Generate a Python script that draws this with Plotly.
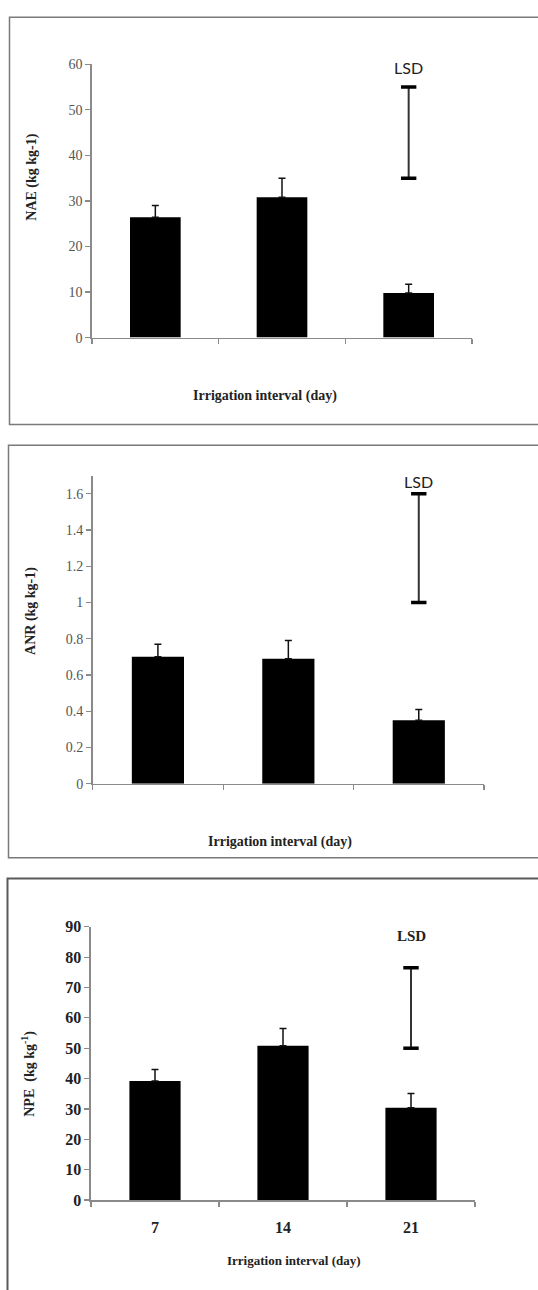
import plotly.graph_objects as go

W, H = 538, 1290

categories = ["7", "14", "21"]

nae_values = [26.4, 30.8, 9.8]
nae_errors = [2.6, 4.2, 1.9]
nae_lsd = [35, 55]

anr_values = [0.70, 0.69, 0.35]
anr_errors = [0.07, 0.10, 0.06]
anr_lsd = [1.0, 1.6]

npe_values = [39.2, 50.8, 30.4]
npe_errors = [3.8, 5.7, 4.7]
npe_lsd = [50, 76.5]

y_ticks_nae = [0, 10, 20, 30, 40, 50, 60]
y_ticks_anr = [0, 0.2, 0.4, 0.6, 0.8, 1, 1.2, 1.4, 1.6]
y_tick_labels_anr = ["0", "0.2", "0.4", "0.6", "0.8", "1", "1.2", "1.4", "1.6"]
y_ticks_npe = [0, 10, 20, 30, 40, 50, 60, 70, 80, 90]


def px_x(p):
    return p / W


def px_y(p):
    return 1 - p / H


fig = go.Figure()

panels = [
    dict(vals=nae_values, errs=nae_errors, lsd=nae_lsd, xa="x", ya="y"),
    dict(vals=anr_values, errs=anr_errors, lsd=anr_lsd, xa="x2", ya="y2"),
    dict(vals=npe_values, errs=npe_errors, lsd=npe_lsd, xa="x3", ya="y3"),
]

for p in panels:
    fig.add_trace(go.Bar(
        x=categories, y=p["vals"], width=0.4,
        marker=dict(color="black", line=dict(width=0)),
        error_y=dict(type="data", symmetric=False, array=p["errs"],
                     arrayminus=[0] * len(p["errs"]),
                     color="#111111", thickness=1.5, width=3.5),
        xaxis=p["xa"], yaxis=p["ya"], showlegend=False, hoverinfo="skip",
    ))
    fig.add_trace(go.Scatter(
        x=[categories[-1], categories[-1]], y=p["lsd"], mode="lines+markers",
        line=dict(color="#333333", width=2),
        marker=dict(symbol="line-ew", size=11,
                    line=dict(color="black", width=3.5)),
        xaxis=p["xa"], yaxis=p["ya"], showlegend=False, hoverinfo="skip",
    ))

axis_col = "#8a8a8a"
serif = "Liberation Serif"


def xaxis(domain, anchor, labels, bold=False):
    return dict(
        domain=domain, anchor=anchor, type="category", categoryorder="array",
        categoryarray=categories, range=[-0.5, 2.5],
        tickson="boundaries", ticks="outside", ticklen=5, tickwidth=1.2,
        tickcolor=axis_col, showline=True, linecolor=axis_col, linewidth=1.6,
        showgrid=False, zeroline=False, showticklabels=labels,
        ticklabelstandoff=12,
        tickfont=dict(family=serif, size=16, color="#222222",
                      weight="bold" if bold else "normal"),
        fixedrange=True,
    )


def yaxis(domain, anchor, rng, tickvals, ticktext=None, bold=False, size=14, color="#555555"):
    d = dict(
        domain=domain, anchor=anchor, range=rng, tickvals=tickvals, ticks="outside",
        ticklen=5, tickwidth=1.2, tickcolor=axis_col, showline=True,
        linecolor=axis_col, linewidth=1.6, showgrid=False, zeroline=False,
        tickfont=dict(family=serif, size=size, color=color,
                      weight="bold" if bold else "normal"),
        fixedrange=True,
    )
    if ticktext is not None:
        d["ticktext"] = ticktext
    return d


shapes = [
    dict(type="rect", xref="paper", yref="paper",
         x0=px_x(9.5), x1=1.05, y0=px_y(422), y1=px_y(9.5),
         line=dict(color="#7a7a7a", width=1.5), fillcolor="rgba(0,0,0,0)"),
    dict(type="rect", xref="paper", yref="paper",
         x0=px_x(8.5), x1=1.05, y0=px_y(861), y1=px_y(443),
         line=dict(color="#7a7a7a", width=1.5), fillcolor="rgba(0,0,0,0)"),
    dict(type="rect", xref="paper", yref="paper",
         x0=px_x(7.5), x1=1.05, y0=-0.05, y1=px_y(882),
         line=dict(color="#5a5a5a", width=2), fillcolor="rgba(0,0,0,0)"),
]

title_font = dict(family=serif, size=14, color="#222222", weight="bold")
lsd_font = dict(family="Lato", size=16, color="#222222")


def ann(text, x, y, xref="paper", font=title_font, angle=0):
    return dict(text=text, x=x, y=y, xref=xref, yref="paper", textangle=angle,
                xanchor="center", yanchor="middle", showarrow=False, font=font)


annotations = [
    ann("NAE (kg kg-1)", px_x(32), px_y(172), angle=-90),
    ann("ANR (kg kg-1)", px_x(31), px_y(611), angle=-90),
    ann("NPE  (kg kg<sup>-1</sup>)", px_x(29), px_y(1080), angle=-90),
    ann("Irrigation interval (day)", px_x(265), px_y(393)),
    ann("Irrigation interval (day)", px_x(280), px_y(845)),
    ann("Irrigation interval (day)", px_x(294), px_y(1269),
        font=dict(family=serif, size=13, color="#222222", weight="bold")),
    ann("LSD", 2, px_y(60), xref="x", font=lsd_font),
    ann("LSD", 2, px_y(480), xref="x2", font=lsd_font),
    ann("LSD", 2, px_y(940), xref="x3",
        font=dict(family=serif, size=15, color="#222222", weight="bold")),
]

fig.update_layout(
    width=W, height=H, margin=dict(l=0, r=0, t=0, b=0, pad=0),
    paper_bgcolor="white", plot_bgcolor="white", showlegend=False,
    xaxis=xaxis([px_x(92), px_x(472)], "y", False),
    yaxis=yaxis([px_y(334), px_y(57)], "x", [0, 60], y_ticks_nae),
    xaxis2=xaxis([px_x(92.7), px_x(484)], "y2", False),
    yaxis2=yaxis([px_y(786), px_y(474)], "x2", [0, 1.7], y_ticks_anr, y_tick_labels_anr),
    xaxis3=xaxis([px_x(91), px_x(475)], "y3", True, bold=True),
    yaxis3=yaxis([px_y(1208), px_y(931)], "x3", [0, 90], y_ticks_npe, bold=True, size=16, color="#222222"),
    shapes=shapes, annotations=annotations,
)

fig.write_html(
    "out.html",
    config={"displayModeBar": False, "staticPlot": True},
    post_script="document.body.style.margin='0';document.body.style.overflow='hidden';",
)
